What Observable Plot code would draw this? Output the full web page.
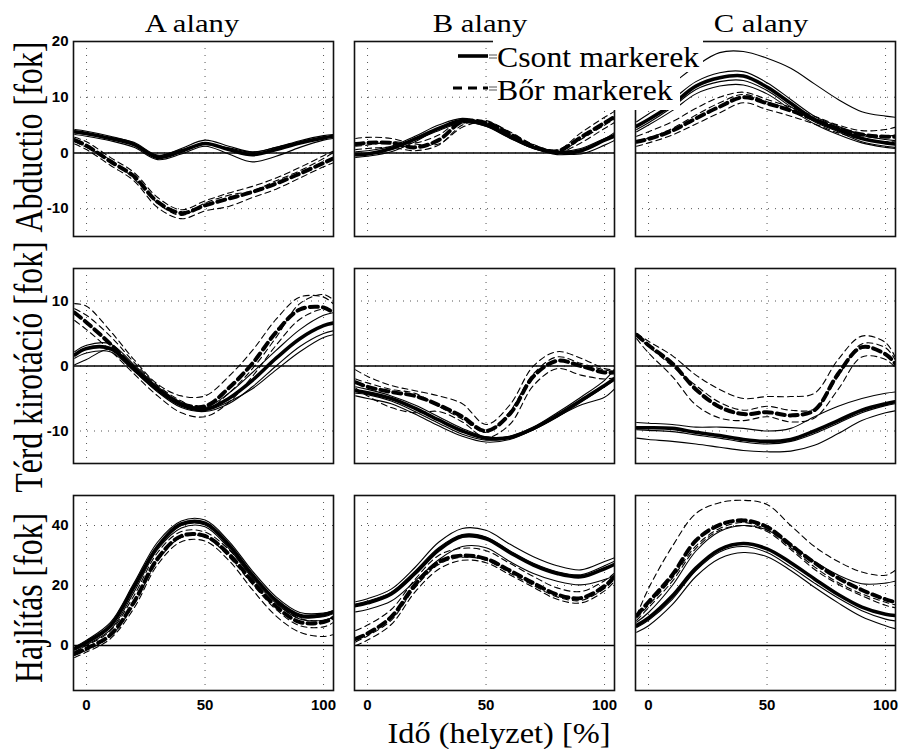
<!DOCTYPE html>
<html><head><meta charset="utf-8">
<script src="https://cdn.jsdelivr.net/npm/d3@7"></script>
<script src="https://cdn.jsdelivr.net/npm/@observablehq/plot@0.6"></script>
<style>
body{margin:0;background:#fff;}
#wrap{position:relative;width:899px;height:749px;background:#fff;overflow:hidden;}
svg.ov text{font-family:"Liberation Serif","Times New Roman","DejaVu Serif",serif !important;font-weight:400;}
svg.panel text{font-family:"Liberation Sans",Arial,Helvetica,"DejaVu Sans",sans-serif !important;font-weight:700 !important;font-size:15px !important;}
</style></head><body><div id="wrap"></div>
<script>
// ---- data ----
const subjects = ["A alany", "B alany", "C alany"];
const measures = ["Abductio [fok]", "Térd kirotáció [fok]", "Hajlítás [fok]"];
const xLabel = "Idő (helyzet) [%]";
const legendLabels = ["Csont markerek", "Bőr markerek"];
const xs = [-5, 0, 10, 20, 30, 40, 50, 60, 70, 80, 90, 100, 104];
const xTicks = [0, 50, 100];
const yTicksAbd = [-10, 0, 10, 20];
const yTicksRot = [-10, 0, 10];
const yTicksFlex = [0, 20, 40];

// first row in each array = mean (thick), following rows = single trials (thin)
const abdA_csont = [
 [3.8, 3.5, 2.6, 1.5, -0.8, 0.3, 1.7, 0.6, -0.3, 0.6, 1.8, 2.7, 3.0],
 [4.2, 3.9, 3.0, 1.8, -0.5, 0.8, 2.3, 1.2, 0.2, 1.0, 2.2, 3.1, 3.3],
 [3.3, 3.0, 2.2, 1.0, -1.2, -0.2, 1.2, -0.2, -1.6, -0.6, 1.0, 2.3, 2.6],
 [3.6, 3.3, 2.8, 1.9, -0.4, 0.6, 1.5, 0.9, 0.1, 1.0, 2.0, 2.8, 3.1]];
const abdA_bor = [
 [2.3, 1.3, -1.5, -4.2, -8.8, -10.8, -9.4, -8.2, -7.0, -5.5, -3.7, -1.8, -1.0],
 [2.8, 2.0, -0.8, -3.5, -8.0, -10.2, -8.6, -7.2, -6.0, -4.5, -2.6, -0.5, 0.3],
 [1.6, 0.6, -2.2, -5.0, -9.8, -11.8, -10.4, -9.6, -8.0, -6.5, -4.5, -2.5, -1.8],
 [2.0, 1.0, -1.2, -4.6, -9.0, -11.2, -9.0, -7.6, -6.8, -5.0, -3.2, -1.0, 0.0]];
const abdB_csont = [
 [-0.3, -0.2, 0.8, 2.5, 4.4, 5.8, 5.0, 2.9, 1.0, 0.1, 0.4, 2.3, 3.0],
 [-0.8, -0.6, 0.2, 2.0, 4.3, 6.0, 5.4, 3.3, 1.2, 0.0, -0.2, 1.4, 2.2],
 [0.2, 0.4, 1.2, 3.0, 5.0, 6.2, 5.2, 3.0, 0.9, -0.3, 0.2, 2.5, 3.6],
 [-0.4, -0.2, 0.6, 2.3, 4.0, 5.4, 4.8, 2.7, 0.8, 0.2, 0.8, 2.6, 3.3]];
const abdB_bor = [
 [1.6, 1.8, 1.8, 1.0, 2.3, 5.6, 5.4, 3.4, 1.2, 0.3, 2.8, 5.4, 6.4],
 [2.6, 2.8, 2.6, 1.6, 1.6, 4.6, 5.6, 3.8, 1.5, 0.5, 3.6, 6.4, 7.4],
 [0.6, 0.8, 1.0, 0.4, 1.4, 5.0, 5.8, 3.6, 1.0, 0.0, 1.8, 4.4, 5.4],
 [1.2, 1.4, 2.0, 1.8, 3.2, 6.0, 5.2, 3.0, 0.8, 0.2, 2.4, 5.0, 6.0]];
const abdC_csont = [
 [4.8, 6.0, 8.7, 12.0, 13.5, 13.8, 11.8, 8.9, 6.0, 4.2, 2.6, 1.8, 1.6],
 [8.0, 9.3, 12.4, 15.6, 18.0, 18.2, 17.0, 15.2, 12.4, 9.6, 7.4, 6.6, 6.4],
 [3.8, 5.0, 7.6, 10.6, 12.0, 12.2, 10.6, 7.8, 5.2, 3.3, 1.8, 1.0, 0.8],
 [5.6, 7.0, 9.6, 12.8, 14.4, 14.6, 12.6, 9.6, 6.6, 4.8, 3.2, 2.4, 2.2],
 [4.2, 5.4, 8.2, 11.4, 12.8, 13.0, 11.2, 8.3, 5.6, 3.8, 2.0, 1.2, 1.0]];
const abdC_bor = [
 [2.0, 2.5, 4.0, 6.2, 8.3, 10.0, 8.9, 7.6, 6.0, 4.4, 3.3, 2.9, 2.9],
 [1.2, 1.8, 3.2, 5.2, 7.2, 9.0, 7.8, 6.6, 5.2, 3.6, 2.5, 2.0, 2.0],
 [3.0, 3.8, 5.6, 8.0, 10.0, 10.9, 9.6, 8.2, 6.6, 5.0, 4.0, 4.2, 4.6],
 [2.2, 2.7, 4.4, 6.8, 9.0, 10.5, 9.2, 7.8, 6.2, 4.6, 3.4, 3.0, 3.2]];
const rotA_csont = [
 [1.7, 2.7, 2.7, -0.4, -3.6, -6.0, -6.7, -5.0, -2.2, 1.2, 4.2, 6.2, 6.6],
 [2.2, 3.2, 3.4, 0.2, -3.2, -5.6, -6.4, -4.2, -1.0, 2.4, 5.6, 7.8, 8.2],
 [1.2, 2.0, 2.2, -0.8, -4.0, -6.4, -7.0, -5.8, -3.2, 0.0, 3.0, 5.0, 5.4],
 [0.2, 1.0, 2.6, 0.0, -3.4, -5.8, -6.8, -5.5, -3.5, -0.6, 2.2, 4.4, 4.8]];
const rotA_bor = [
 [8.2, 6.7, 3.4, -0.4, -3.6, -5.8, -6.2, -3.4, 0.4, 5.2, 8.7, 9.0, 8.2],
 [9.6, 9.2, 5.4, 1.0, -2.8, -4.6, -4.6, -1.6, 2.4, 7.2, 10.6, 10.6, 9.6],
 [7.0, 5.6, 2.4, -1.2, -4.6, -7.2, -7.8, -5.6, -1.6, 3.2, 7.2, 8.8, 8.6],
 [8.8, 7.8, 4.6, 0.6, -3.0, -5.4, -6.8, -4.2, -0.4, 4.4, 9.6, 11.0, 10.2]];
const rotB_csont = [
 [-3.8, -4.1, -5.0, -6.5, -8.3, -10.0, -11.1, -11.0, -9.6, -7.6, -5.3, -3.0, -2.0],
 [-3.2, -3.6, -4.6, -6.0, -7.8, -9.6, -10.9, -10.8, -9.4, -7.2, -4.8, -2.2, -0.6],
 [-4.6, -5.0, -5.8, -7.4, -9.2, -10.8, -11.7, -11.3, -9.8, -7.8, -6.0, -4.8, -3.6],
 [-4.2, -4.4, -5.4, -7.0, -8.8, -10.5, -11.4, -11.1, -9.8, -7.9, -5.6, -3.2, -2.2]];
const rotB_bor = [
 [-2.5, -3.2, -4.0, -4.6, -6.0, -7.8, -10.0, -7.4, -1.6, 0.8, 0.0, -1.0, -1.0],
 [-0.6, -1.6, -3.0, -3.8, -4.6, -5.8, -9.0, -6.0, 0.0, 2.2, 1.2, -0.4, -0.6],
 [-3.4, -4.6, -6.4, -7.2, -7.0, -8.6, -11.0, -9.0, -3.0, -0.4, -1.4, -2.0, -1.8],
 [-2.0, -2.6, -3.6, -4.2, -6.2, -8.2, -10.2, -7.0, -1.2, 1.4, 0.4, -0.6, -0.8]];
const rotC_csont = [
 [-9.5, -9.5, -9.6, -10.2, -10.7, -11.3, -11.6, -11.3, -10.0, -8.4, -6.8, -5.8, -5.5],
 [-11.1, -11.3, -11.6, -12.0, -12.5, -13.0, -13.2, -13.1, -12.2, -10.4, -8.4, -7.2, -6.9],
 [-8.7, -8.8, -9.0, -9.4, -9.4, -9.6, -10.0, -9.6, -7.8, -6.2, -5.0, -4.2, -4.0],
 [-9.8, -9.9, -10.1, -10.6, -11.1, -11.7, -12.0, -11.6, -10.4, -8.8, -7.2, -6.1, -5.8]];
const rotC_bor = [
 [4.8, 3.2, 0.4, -3.6, -6.3, -7.4, -7.1, -7.6, -6.8, -1.2, 2.9, 1.8, 0.4],
 [5.0, 3.8, 1.6, -1.4, -3.6, -5.0, -4.7, -4.7, -4.2, 1.0, 4.6, 3.6, 1.4],
 [4.2, 2.0, -1.6, -6.0, -8.0, -8.4, -7.8, -8.6, -8.0, -3.6, 1.4, 1.0, -0.2],
 [4.6, 3.0, 0.0, -3.0, -5.6, -6.8, -6.2, -6.8, -6.6, -1.6, 3.4, 2.8, 1.0]];
const flexA_csont = [
 [-1.1, 1.1, 6.5, 19.5, 33.0, 40.5, 40.8, 33.6, 23.5, 15.0, 10.0, 10.2, 11.2],
 [-0.5, 1.8, 7.6, 20.8, 34.5, 41.5, 41.8, 34.8, 24.8, 16.2, 11.0, 10.8, 11.6],
 [-2.2, 0.2, 5.2, 17.8, 32.0, 39.2, 39.6, 32.4, 22.4, 14.0, 8.8, 8.4, 9.4],
 [-1.4, 0.6, 6.0, 19.0, 33.0, 40.0, 40.2, 33.0, 23.0, 14.6, 9.4, 9.6, 10.6]];
const flexA_bor = [
 [-2.8, -1.0, 3.5, 14.5, 29.0, 36.5, 36.5, 30.5, 21.3, 13.0, 7.8, 7.8, 9.2],
 [-4.0, -2.2, 2.2, 12.4, 27.0, 34.6, 34.8, 28.4, 18.6, 9.8, 4.4, 3.0, 3.6],
 [-2.0, 0.0, 4.8, 16.6, 31.0, 38.0, 37.8, 32.0, 23.0, 14.4, 9.0, 8.4, 9.6],
 [-3.2, -1.6, 3.0, 13.6, 28.2, 36.0, 36.2, 29.6, 20.4, 12.0, 6.6, 6.2, 7.6]];
const flexB_csont = [
 [13.3, 14.2, 17.2, 24.0, 31.8, 36.4, 35.6, 31.0, 26.8, 24.0, 22.9, 25.6, 27.0],
 [14.6, 15.6, 18.8, 26.0, 34.4, 39.0, 38.4, 33.8, 29.6, 26.6, 25.2, 28.0, 29.2],
 [11.2, 12.0, 14.8, 21.4, 28.6, 33.0, 32.6, 28.0, 24.0, 21.4, 20.2, 22.0, 23.2],
 [13.8, 14.8, 17.8, 24.8, 32.6, 37.0, 36.2, 31.6, 27.4, 24.6, 23.6, 26.6, 28.0]];
const flexB_bor = [
 [2.2, 4.0, 9.5, 20.2, 27.8, 30.0, 28.9, 25.0, 20.8, 17.0, 15.8, 19.8, 22.8],
 [5.0, 6.8, 12.0, 22.0, 30.0, 32.4, 31.6, 27.4, 23.0, 19.2, 18.0, 21.6, 24.0],
 [0.0, 1.8, 7.0, 17.8, 25.4, 28.4, 27.6, 23.6, 19.4, 15.4, 14.2, 18.2, 21.2],
 [1.2, 3.2, 8.4, 19.2, 27.0, 29.4, 28.4, 24.2, 20.0, 16.2, 15.0, 19.0, 22.0]];
const flexC_csont = [
 [6.7, 9.2, 16.5, 25.8, 32.0, 34.0, 32.2, 27.6, 22.2, 17.0, 12.8, 10.4, 10.0],
 [4.4, 6.6, 13.6, 23.0, 29.0, 31.0, 29.6, 25.0, 19.4, 14.2, 9.6, 6.6, 5.6],
 [7.8, 11.0, 20.0, 31.5, 38.0, 40.0, 38.5, 33.5, 28.0, 23.5, 20.6, 20.8, 21.4],
 [6.0, 8.4, 15.4, 25.0, 31.2, 33.0, 31.0, 26.2, 20.8, 15.8, 11.6, 8.8, 8.2]];
const flexC_bor = [
 [10.0, 14.5, 23.5, 35.0, 40.2, 41.7, 39.5, 33.5, 27.6, 22.5, 18.5, 15.4, 14.5],
 [10.0, 19.0, 33.0, 44.0, 47.6, 48.4, 47.0, 40.0, 33.0, 28.0, 24.5, 23.4, 25.0],
 [8.4, 12.6, 21.4, 32.4, 38.4, 40.0, 38.0, 32.0, 25.4, 20.4, 16.6, 13.4, 12.6],
 [9.2, 13.4, 22.4, 33.2, 39.0, 41.0, 38.6, 32.6, 26.2, 21.0, 17.2, 14.4, 13.6]];

// ---- layout ----
const grid = [
  [[abdA_csont, abdA_bor], [abdB_csont, abdB_bor], [abdC_csont, abdC_bor]],
  [[rotA_csont, rotA_bor], [rotB_csont, rotB_bor], [rotC_csont, rotC_bor]],
  [[flexA_csont, flexA_bor], [flexB_csont, flexB_bor], [flexC_csont, flexC_bor]]
];
const yDomains = [[-15, 20], [-15, 15], [-15, 50]];
const yTicksRows = [yTicksAbd, yTicksRot, yTicksFlex];
const xDomain = [-5.5, 104.2];
const ML = 40, MR = 4, MT = 4, MB = 32, FW = 260, FH = 195;
const colLeft = [73, 354, 635], rowTop = [41, 268, 495];

const wrap = document.getElementById("wrap");

function toRows(sets, group) {
  const out = [];
  sets.forEach((arr, k) => arr.forEach((v, i) => out.push({x: xs[i], y: v, trial: group + k, mean: k === 0})));
  return out;
}

for (let r = 0; r < 3; r++) {
  for (let c = 0; c < 3; c++) {
    const [bone, skin] = grid[r][c];
    const boneRows = toRows(bone, "c");
    const skinRows = toRows(skin, "b");
    const thin = d => !d.mean, thick = d => d.mean;
    const chart = Plot.plot({
      width: FW + ML + MR, height: FH + MT + MB,
      marginLeft: ML, marginRight: MR, marginTop: MT, marginBottom: MB,
      style: {background: "transparent", overflow: "visible", color: "black",
        fontFamily: "Liberation Sans, Arial, sans-serif", fontSize: "15px", fontWeight: "bold"},
      x: {domain: xDomain, ticks: xTicks, tickSize: 0, tickPadding: 9, label: null,
        tickFormat: r === 2 ? (d => String(d)) : (() => "")},
      y: {domain: yDomains[r], ticks: yTicksRows[r], tickSize: 0, tickPadding: 5, label: null,
        tickFormat: c === 0 ? (d => String(d)) : (() => "")},
      marks: [
        Plot.ruleX(xTicks, {stroke: "#555", strokeWidth: 1, strokeDasharray: "1,6"}),
        Plot.ruleY(yTicksRows[r], {stroke: "#555", strokeWidth: 1, strokeDasharray: "1,6"}),
        Plot.ruleY([0], {stroke: "black", strokeWidth: 1.6}),
        Plot.line(boneRows, {filter: thin, x: "x", y: "y", z: "trial", curve: "catmull-rom", stroke: "black", strokeWidth: 1.1, clip: true}),
        Plot.line(skinRows, {filter: thin, x: "x", y: "y", z: "trial", curve: "catmull-rom", stroke: "black", strokeWidth: 1.1, strokeDasharray: "6,4", clip: true}),
        Plot.line(boneRows, {filter: thick, x: "x", y: "y", z: "trial", curve: "catmull-rom", stroke: "black", strokeWidth: 3.6, clip: true}),
        Plot.line(skinRows, {filter: thick, x: "x", y: "y", z: "trial", curve: "catmull-rom", stroke: "black", strokeWidth: 4, strokeDasharray: "8,5", clip: true}),
        Plot.frame({stroke: "#111", strokeWidth: 1.6})
      ]
    });
    chart.classList.add("panel");
    chart.style.position = "absolute";
    chart.style.left = (colLeft[c] - ML) + "px";
    chart.style.top = (rowTop[r] - MT) + "px";
    chart.style.maxWidth = "none";
    wrap.appendChild(chart);
  }
}

// ---- text overlay (titles, axis names, legend) ----
const NS = "http://www.w3.org/2000/svg";
const ov = document.createElementNS(NS, "svg");
ov.setAttribute("width", 899); ov.setAttribute("height", 749);
ov.setAttribute("class", "ov");
ov.style.position = "absolute"; ov.style.left = "0px"; ov.style.top = "0px";
wrap.appendChild(ov);
function el(tag, attrs, text) {
  const e = document.createElementNS(NS, tag);
  for (const k in attrs) e.setAttribute(k, attrs[k]);
  if (text != null) e.textContent = text;
  ov.appendChild(e);
  return e;
}
const titleX = [192, 480, 761];
subjects.forEach((t, i) => el("text", {transform: `translate(${titleX[i]},32) scale(1.18,1)`, "text-anchor": "middle", "font-size": 26, fill: "black"}, t));
const ylabY = [137, 367, 598], ylabLen = [191, 251, 170];
measures.forEach((t, i) => el("text", {transform: `translate(42,${ylabY[i]}) rotate(-90) scale(1,1.35)`, "text-anchor": "middle", "font-size": 30, textLength: ylabLen[i], lengthAdjust: "spacingAndGlyphs", fill: "black"}, t));
el("text", {transform: "translate(499,743) scale(1.08,1)", "text-anchor": "middle", "font-size": 30, fill: "black"}, xLabel);

// legend
el("rect", {x: 493, y: 39, width: 210, height: 33, fill: "white"});
el("rect", {x: 493, y: 72, width: 187, height: 38, fill: "white"});
el("line", {x1: 458, x2: 488, y1: 56, y2: 56, stroke: "black", "stroke-width": 3.6});
el("line", {x1: 489, x2: 497, y1: 55, y2: 55, stroke: "#555", "stroke-width": 1});
el("line", {x1: 489, x2: 497, y1: 58, y2: 58, stroke: "#555", "stroke-width": 1});
el("line", {x1: 453, x2: 488, y1: 88, y2: 88, stroke: "black", "stroke-width": 3, "stroke-dasharray": "9,6"});
el("line", {x1: 489, x2: 497, y1: 87, y2: 87, stroke: "#555", "stroke-width": 1});
el("line", {x1: 489, x2: 497, y1: 90, y2: 90, stroke: "#555", "stroke-width": 1});
el("text", {transform: "translate(497,67) scale(1.06,1)", "font-size": 30, fill: "black"}, legendLabels[0]);
el("text", {transform: "translate(497,100) scale(1.06,1)", "font-size": 30, fill: "black"}, legendLabels[1]);
</script>
</body></html>
